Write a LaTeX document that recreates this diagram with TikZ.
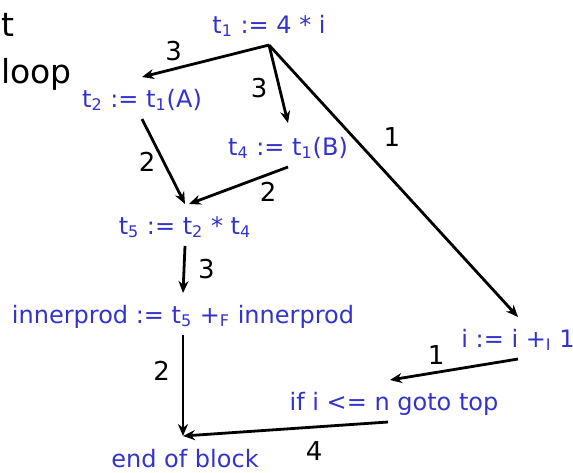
\documentclass[tikz,border=0pt]{standalone}
\usepackage{fontspec}
\setmainfont{DejaVu Sans}
\usetikzlibrary{arrows.meta}
\definecolor{stmtblue}{RGB}{51,51,204}
\begin{document}
\begin{tikzpicture}[x=.5pt,y=-.5pt,line width=1.4pt,
  stmt/.style={text=stmtblue,font=\fontsize{12}{14}\selectfont,inner sep=0pt,outer sep=3pt,text height=9pt,text depth=3pt,anchor=base},
  wt/.style={font=\fontsize{13}{15}\selectfont},
  dep/.style={-{Stealth[length=6pt,width=5pt]}}]
\useasboundingbox (0,0) rectangle (573,472);
\node[font=\fontsize{16.5}{19}\selectfont,inner sep=0pt,anchor=base west] (head1) at (0,36) {t};
\node[font=\fontsize{16.5}{19}\selectfont,inner sep=0pt,anchor=base west] (head2) at (0,83) {loop};
\node[stmt] (t1) at (269,33) {t\textsubscript{1} := 4 * i};
\node[stmt] (t2) at (142,107) {t\textsubscript{2} := t\textsubscript{1}(A)};
\node[stmt] (t4) at (288,155) {t\textsubscript{4} := t\textsubscript{1}(B)};
\node[stmt] (t5) at (185,234) {t\textsubscript{5} := t\textsubscript{2} * t\textsubscript{4}};
\node[stmt] (ip) at (183,323) {innerprod := t\textsubscript{5} +\textsubscript{F} innerprod};
\node[stmt] (inc) at (518,347) {i := i +\textsubscript{I} 1};
\node[stmt] (test) at (394,410) {if i <= n goto top};
\node[stmt] (eob) at (185,467) {end of block};
\draw[dep] (t1.south)--node[wt,pos=.75,above] (w1){3}([yshift=3pt]t2.north);
\draw[dep] (t1.south)--node[wt,pos=.55,left=2pt] (w2){3}([yshift=4pt]t4.north);
\draw[dep] (t1.south)--node[wt,pos=.34,right=11pt] (w3){1}([yshift=3pt]inc.north);
\draw[dep] (t2.south)--node[wt,midway,left] (w4){2}([yshift=3pt]t5.north);
\draw[dep] (t4.south)--node[wt,pos=.2,below] (w5){2}([yshift=3pt,xshift=2pt]t5.north);
\draw[dep] (t5.south)--node[wt,midway,right=3pt] (w6){3}([yshift=3pt]ip.north);
\draw[dep] (ip.south)--node[wt,pos=.35,left=2.5pt] (w7){2}([yshift=3.5pt,xshift=-1pt]eob.north);
\draw[dep] (inc.south)--node[wt,pos=.64,above] (w8){1}([yshift=3pt,xshift=-2pt]test.north);
\draw[dep] ([xshift=-3pt]test.south)--node[wt,pos=.36,below=3pt] (w9){4}([yshift=3.5pt,xshift=-1pt]eob.north);
\end{tikzpicture}
\end{document}
